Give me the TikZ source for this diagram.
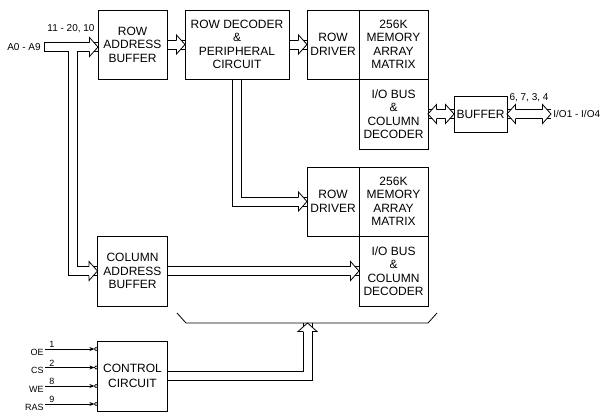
\documentclass[tikz,border=0pt]{standalone}
\usepackage{fontspec}
\setmainfont{Liberation Sans}
\usetikzlibrary{arrows.meta,positioning}

\begin{document}
\begin{tikzpicture}[
  x=1pt, y=-1pt, line width=0.8pt,
  node distance=18pt,
  box/.style={draw, align=center, outer sep=0pt, inner sep=1pt, minimum height=69pt, font=\fontsize{12}{13.5}\selectfont},
  lbl/.style={font=\fontsize{10}{12}\selectfont, inner sep=1pt},
  pinlbl/.style={font=\fontsize{9}{11}\selectfont, inner sep=1pt},
  % hollow bus: two thin lines 9pt apart
  hbus/.style={to path={([yshift=4.5pt]\tikztostart) -- ([yshift=4.5pt]\tikztotarget)
      ([yshift=-4.5pt]\tikztostart) -- ([yshift=-4.5pt]\tikztotarget)}},
  dnbus/.style={to path={([xshift=-4.5pt]\tikztostart) |- ([yshift=-4.5pt]\tikztotarget)
      ([xshift=4.5pt]\tikztostart) |- ([yshift=4.5pt]\tikztotarget)}},
  upbus/.style={to path={([yshift=-4.5pt]\tikztostart) -| ([xshift=4.5pt]\tikztotarget)
      ([yshift=4.5pt]\tikztostart) -| ([xshift=-4.5pt]\tikztotarget)}},
  sig/.style={-{Stealth[length=5pt, width=4pt]}},
  bubble/.style={draw, circle, inner sep=0pt, outer sep=0pt, minimum size=3.4pt, line width=0.6pt},
  hhead/.pic={
    \fill[white] (-8.5,-9.5) -- (0,0) -- (-8.5,9.5) -- cycle;
    \draw (-8.5,4.5) -- (-8.5,9.5) -- (0,0) -- (-8.5,-9.5) -- (-8.5,-4.5);
  }
]
\useasboundingbox (0,0) rectangle (601,413);

% upper row
\node[box, minimum width=69pt] (rowbuf) at (132.5,44.5) {ROW\\ADDRESS\\BUFFER};
\node[box, minimum width=104pt, right=of rowbuf] (rowdec) {ROW DECODER\\\&\\PERIPHERAL\\CIRCUIT};
\node[box, minimum width=52pt, right=of rowdec] (drv1) {ROW\\DRIVER};
\node[box, minimum width=69pt, right=0pt of drv1] (mat1) {256K\\MEMORY\\ARRAY\\MATRIX};
\node[box, minimum width=69pt, minimum height=70pt, below=0pt of mat1] (io1) {I/O BUS\\\&\\COLUMN\\DECODER};
\node[box, minimum width=53pt, minimum height=36pt, right=26pt of io1] (buf) {BUFFER};

% lower memory block
\node[box, minimum width=52pt, below=88pt of drv1] (drv2) {ROW\\DRIVER};
\node[box, minimum width=69pt, right=0pt of drv2] (mat2) {256K\\MEMORY\\ARRAY\\MATRIX};
\node[box, minimum width=69pt, minimum height=70pt, below=0pt of mat2] (io2) {I/O BUS\\\&\\COLUMN\\DECODER};
\node[box, minimum width=70pt, minimum height=70pt] (colbuf) at (rowbuf |- io2) {COLUMN\\ADDRESS\\BUFFER};
\node[box, minimum width=70pt, minimum height=70pt, below=35pt of colbuf] (ctrl) {CONTROL\\[1.5pt]CIRCUIT};

% outside labels
\node[lbl, anchor=east, inner sep=3pt] (a09) at (44,47) {A0 - A9};
\coordinate (tap) at (72.5,47);
\coordinate (rowin) at (rowbuf.west |- a09.east);
\node[lbl, anchor=west, inner sep=2pt] (iolbl) at (551,114) {I/O1 - I/O4};
\coordinate (bracemid) at (307.5,323);

% address bus with branch to column buffer
\draw ([yshift=4.5pt]a09.east) -- node[lbl, above=8pt] {11 - 20, 10} ([yshift=4.5pt]rowin)
  ([yshift=4.5pt]a09.east) -- ([yshift=-4.5pt]a09.east) -- ([shift={(-4.5pt,-4.5pt)}]tap)
  |- ([yshift=-4.5pt]colbuf.west)
  ([yshift=4.5pt]colbuf.west) -| ([shift={(4.5pt,-4.5pt)}]tap) -- ([yshift=-4.5pt]rowin);

% other buses
\draw (rowbuf.east) to[hbus] (rowdec.west);
\draw (rowdec.east) to[hbus] (drv1.west);
\draw (rowdec.south) to[dnbus] (drv2.west);
\draw (colbuf.east) to[hbus] (io2.west);
\draw (io1.east) to[hbus] (buf.west);
\draw (buf.east) to[hbus] (iolbl.west);
\path (buf.east) -- node[lbl, above=11pt] {6, 7, 3, 4} (iolbl.west);
\draw (ctrl.east) to[upbus] (bracemid);

% brace
\draw (177,313) -- (186,323) -- (bracemid) -- (428,323) -- (437,313);

% heads
\pic at (rowin) {hhead};
\pic at (colbuf.west) {hhead};
\pic at (rowdec.west) {hhead};
\pic at (drv1.west) {hhead};
\pic at (drv2.west) {hhead};
\pic at (io2.west) {hhead};
\pic at (buf.west) {hhead};
\pic[rotate=180] at (io1.east) {hhead};
\pic[rotate=180] at (buf.east) {hhead};
\pic at (iolbl.west) {hhead};
\pic[rotate=90] at (bracemid) {hhead};

% control inputs
\foreach \nm/\pin/\yy in {OE/1/349, CS/2/367.5, WE/8/386, RAS/9/404} {
  \node[bubble] (b\nm) at (96.1,\yy) {};
  \node[pinlbl, anchor=east] (l\nm) at (45,\yy+3) {\nm};
  \draw[sig] (l\nm.east |- b\nm) -- node[pinlbl, pos=0, anchor=south west, xshift=3pt] {\pin} (b\nm.west);
}
\end{tikzpicture}
\end{document}
